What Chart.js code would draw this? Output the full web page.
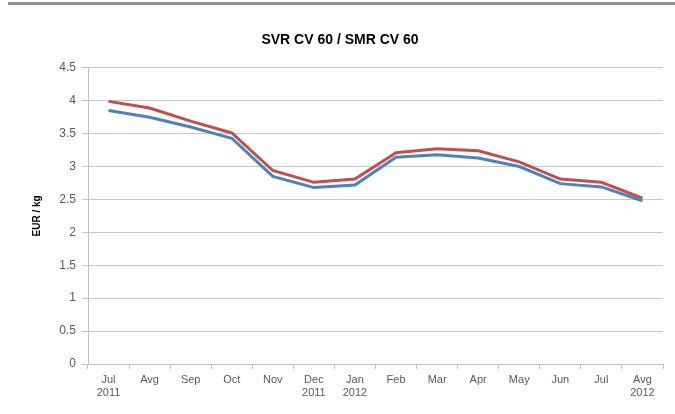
<!DOCTYPE html>
<html>
<head>
<meta charset="utf-8">
<script src="https://cdn.jsdelivr.net/npm/chart.js@4/dist/chart.umd.min.js"></script>
<style>
  html, body { margin: 0; padding: 0; background: #fff; }
  #wrap { position: relative; width: 675px; height: 414px; }
  #bar { position: absolute; left: 8px; top: 2px; width: 667px; height: 3px; background: #8f8f8f; }
  canvas { position: absolute; left: 0; top: 0; }
</style>
</head>
<body>
<div id="wrap">
  <canvas id="c" width="675" height="414"></canvas>
  <div id="bar"></div>
</div>
<script>
const categories = [["Jul","2011"],"Avg","Sep","Oct","Nov",["Dec","2011"],["Jan","2012"],"Feb","Mar","Apr","May","Jun","Jul",["Avg","2012"]];
const svrValues = [3.99, 3.89, 3.69, 3.51, 2.94, 2.76, 2.81, 3.21, 3.27, 3.24, 3.07, 2.81, 2.76, 2.52];
const smrValues = [3.85, 3.75, 3.60, 3.43, 2.85, 2.68, 2.72, 3.14, 3.18, 3.13, 3.00, 2.74, 2.69, 2.48];
const chartTitle = "SVR CV 60 / SMR CV 60";
const yTitle = "EUR / kg";

const fontFam = "'Liberation Sans', Arial, sans-serif";

new Chart(document.getElementById('c'), {
  type: 'line',
  data: {
    labels: categories,
    datasets: [
      { label: 'SMR CV 60', data: smrValues, borderColor: '#4F81BD', backgroundColor: '#4F81BD', borderWidth: 3, pointRadius: 0, tension: 0, fill: false },
      { label: 'SVR CV 60', data: svrValues, borderColor: '#C0504D', backgroundColor: '#C0504D', borderWidth: 3, pointRadius: 0, tension: 0, fill: false }
    ]
  },
  options: {
    responsive: false,
    animation: false,
    devicePixelRatio: 1,
    layout: { padding: { left: 17, right: 12, top: 0, bottom: 0 } },
    plugins: {
      legend: { display: false },
      tooltip: { enabled: false },
      title: {
        display: true,
        text: chartTitle,
        color: '#000',
        font: { family: fontFam, size: 14, weight: 'bold' },
        padding: { top: 32, bottom: 19 }
      }
    },
    scales: {
      x: {
        offset: true,
        grid: { display: true, drawOnChartArea: false, offset: true, color: '#bfbfbf', tickLength: 5 },
        border: { color: '#bfbfbf', width: 1 },
        ticks: { color: '#595959', font: { family: fontFam, size: 11 }, maxRotation: 0, autoSkip: false, padding: 4 },
        afterFit: (s) => { s.height = 50; }
      },
      y: {
        min: 0, max: 4.5,
        ticks: { stepSize: 0.5, color: '#595959', font: { family: fontFam, size: 12 }, padding: 6,
                 callback: (v) => String(Math.round(v * 10) / 10) },
        grid: { color: '#c8c8c8', tickLength: 6 },
        border: { color: '#bfbfbf', width: 1 },
        title: { display: true, text: yTitle, color: '#000', font: { family: fontFam, size: 10, weight: 'bold' }, padding: { top: 14, bottom: 0 } },
        afterFit: (s) => { s.width = 71; }
      }
    }
  }
});
</script>
</body>
</html>
